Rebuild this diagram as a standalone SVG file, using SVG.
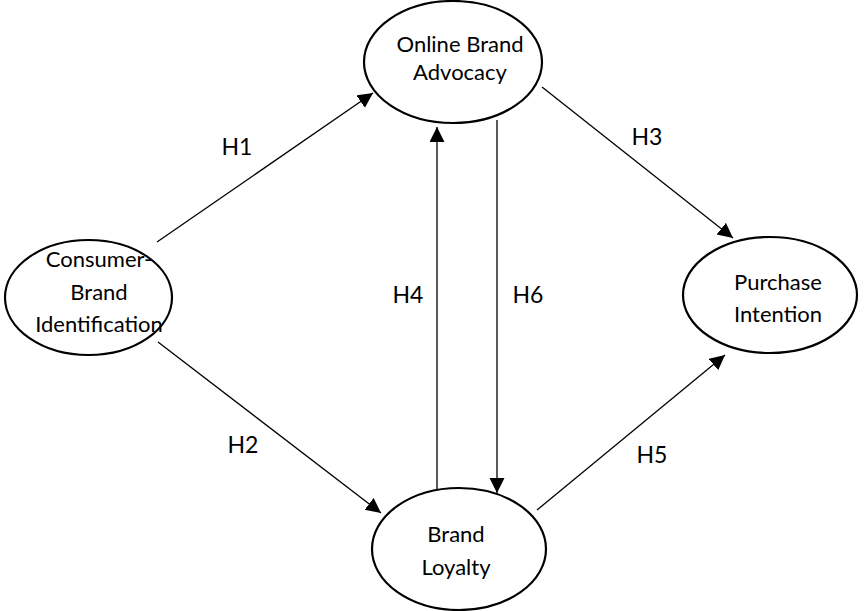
<svg xmlns="http://www.w3.org/2000/svg" width="867" height="611" viewBox="0 0 867 611">
<style>
.node ellipse{fill:#fff;stroke:#000;stroke-width:2.2}
.node text{font-family:Lato,"Liberation Sans",sans-serif;font-size:22px;fill:#000;text-anchor:middle}
.lbl{font-family:Lato,"Liberation Sans",sans-serif;font-size:23px;fill:#000;text-anchor:middle}
#edges line{stroke:#000;stroke-width:1.3;marker-end:url(#ah)}
</style>
<defs>
<marker id="ah" markerUnits="userSpaceOnUse" markerWidth="16" markerHeight="16" refX="15" refY="7.5" orient="auto">
<path d="M0,0 L15,7.5 L0,15 z" fill="#000"/>
</marker>
</defs>
<rect width="867" height="611" fill="#fff"/>
<g id="edges">
<line x1="157" y1="242" x2="373" y2="93"/>
<line x1="158" y1="342" x2="381" y2="513"/>
<line x1="542" y1="87" x2="733" y2="238"/>
<line x1="437" y1="491" x2="437" y2="127"/>
<line x1="497" y1="120" x2="497" y2="493"/>
<line x1="537" y1="510" x2="725" y2="355"/>
</g>
<g id="labels">
<text class="lbl" x="237" y="155">H1</text>
<text class="lbl" x="243" y="453">H2</text>
<text class="lbl" x="647" y="145">H3</text>
<text class="lbl" x="408" y="303">H4</text>
<text class="lbl" x="652" y="463">H5</text>
<text class="lbl" x="528" y="303">H6</text>
</g>
<g id="oba" class="node">
<ellipse cx="453" cy="62" rx="89" ry="61"/>
<text x="460" y="52">Online Brand</text>
<text x="460" y="80">Advocacy</text>
</g>
<g id="cbi" class="node">
<ellipse cx="88.5" cy="297.5" rx="83.5" ry="57.5"/>
<text x="99" y="267">Consumer-</text>
<text x="99" y="300">Brand</text>
<text x="99" y="332">Identification</text>
</g>
<g id="pi" class="node">
<ellipse cx="770" cy="295" rx="87" ry="58"/>
<text x="778" y="290">Purchase</text>
<text x="778" y="322">Intention</text>
</g>
<g id="bl" class="node">
<ellipse cx="459" cy="549" rx="87" ry="61"/>
<text x="456" y="542">Brand</text>
<text x="456" y="575">Loyalty</text>
</g>
</svg>
